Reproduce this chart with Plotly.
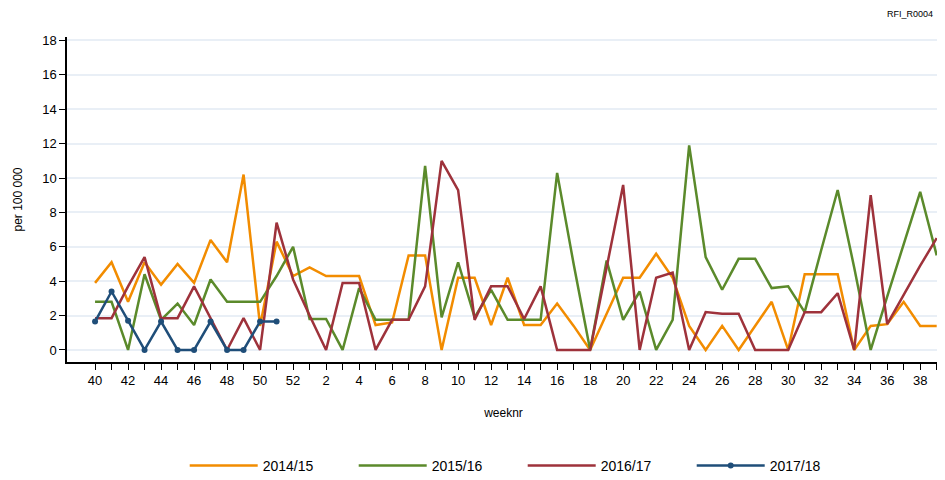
import plotly.graph_objects as go

# week numbers of the season (week 40 through week 39 next year)
weeks = list(range(40, 53)) + list(range(1, 40))
tick_labels = [str(w) if w % 2 == 0 else "" for w in weeks]

season_1415 = [3.9, 5.1, 2.8, 5.1, 3.8, 5.0, 3.9, 6.4, 5.1, 10.2, 1.4, 6.3, 4.3,
               4.8, 4.3, 4.3, 4.3, 1.45, 1.6, 5.5, 5.5, 0, 4.2, 4.2, 1.45, 4.2,
               1.45, 1.45, 2.7, 1.4, 0, 2.1, 4.2, 4.2, 5.6, 4.2, 1.4, 0, 1.4,
               0, 1.4, 2.8, 0, 4.4, 4.4, 4.4, 0, 1.4, 1.5, 2.8, 1.4, 1.4]
season_1516 = [2.8, 2.8, 0, 4.4, 1.75, 2.7, 1.45, 4.1, 2.8, 2.8, 2.8, 4.3, 6.0,
               1.8, 1.8, 0, 3.6, 1.75, 1.75, 1.75, 10.7, 1.9, 5.1, 1.9, 3.5, 1.75,
               1.75, 1.75, 10.3, 5.0, 0, 5.2, 1.75, 3.4, 0, 1.75, 11.9, 5.4, 3.5,
               5.3, 5.3, 3.6, 3.7, 2.2, 5.8, 9.3, 4.8, 0, 3.1, 6.2, 9.2, 5.5]
season_1617 = [1.85, 1.85, 3.7, 5.4, 1.85, 1.85, 3.7, 1.85, 0, 1.85, 0, 7.4, 4.1,
               2.0, 0, 3.9, 3.9, 0, 1.75, 1.75, 3.7, 11.0, 9.3, 1.75, 3.7, 3.7,
               1.8, 3.7, 0, 0, 0, 4.8, 9.6, 0, 4.2, 4.5, 0, 2.2, 2.1, 2.1,
               0, 0, 0, 2.2, 2.2, 3.3, 0, 9.0, 1.5, 3.2, 4.9, 6.5]
season_1718 = [1.65, 3.4, 1.7, 0, 1.65, 0, 0, 1.65, 0, 0, 1.65, 1.65]

x_idx = list(range(len(weeks)))

series = [
    ("2014/15", season_1415, "#F28C00", False),
    ("2015/16", season_1516, "#5B8A2B", False),
    ("2016/17", season_1617, "#9E323B", False),
    ("2017/18", season_1718, "#1F4E79", True),
]

fig = go.Figure()

for name, vals, color, markers in series:
    fig.add_trace(go.Scatter(
        x=x_idx[:len(vals)],
        y=vals,
        mode='lines+markers' if markers else 'lines',
        name=name,
        line=dict(color=color, width=2.5),
        marker=dict(size=6, color=color),
    ))

fig.add_annotation(
    text="RFI_R0004", xref='paper', yref='paper', x=0.994, y=1.07,
    xanchor='right', yanchor='middle', showarrow=False,
    font=dict(size=9, color='black'),
)

fig.update_xaxes(
    range=[-1.7, 51.2],
    tickvals=x_idx,
    ticktext=tick_labels,
    ticks='outside', ticklen=6, tickcolor='black',
    showline=True, linecolor='black', linewidth=1.5,
    showgrid=False, zeroline=False, automargin=False,
    tickfont=dict(size=13, color='black'),
    title=dict(text='weeknr', font=dict(size=12, color='black'), standoff=21),
)
fig.update_yaxes(
    range=[-0.7, 18.2],
    tickvals=list(range(0, 19, 2)),
    ticks='outside', ticklen=6, tickcolor='black',
    showline=True, linecolor='black', linewidth=1.5,
    showgrid=True, gridcolor='#E9EFF6', gridwidth=1.5, zeroline=False,
    automargin=False,
    tickfont=dict(size=13, color='black'),
    title=dict(text='per 100 000', font=dict(size=12, color='black'), standoff=17),
)

fig.update_layout(
    width=945, height=480,
    margin=dict(l=59, r=13, t=29, b=126, autoexpand=False),
    paper_bgcolor='white', plot_bgcolor='white',
    font=dict(family='Liberation Sans, Arial, sans-serif', color='black'),
    legend=dict(
        orientation='h', x=0.522, xanchor='center', y=-0.32, yanchor='middle',
        itemwidth=68, entrywidth=86, font=dict(size=14),
    ),
)

fig.write_html("out.html")
